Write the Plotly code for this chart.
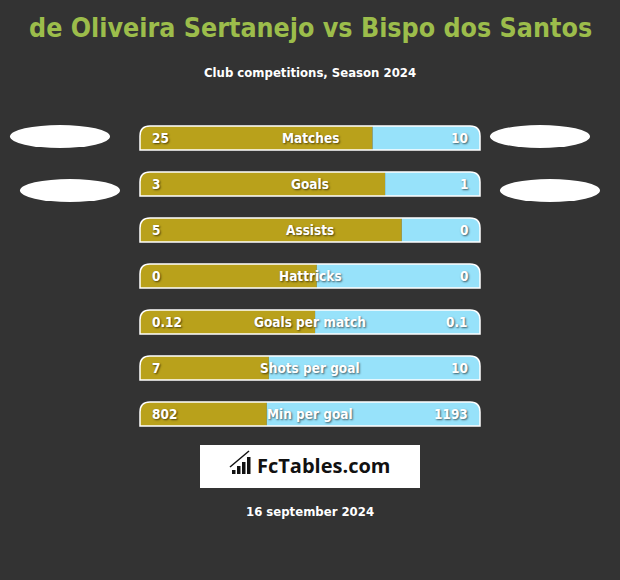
import plotly.graph_objects as go

# ---- data ----
title = "de Oliveira Sertanejo vs Bispo dos Santos"
subtitle = "Club competitions, Season 2024"
date_text = "16 september 2024"
categories = ["Matches", "Goals", "Assists", "Hattricks", "Goals per match", "Shots per goal", "Min per goal"]
left_values = ["25", "3", "5", "0", "0.12", "7", "802"]
right_values = ["10", "1", "0", "0", "0.1", "10", "1193"]
left_share = [0.684, 0.721, 0.770, 0.520, 0.515, 0.379, 0.373]  # share of the bar for the left player
ellipse_rows = [0, 1]

# ---- style ----
W, H = 620, 580
BG = "#333333"
GOLD = "#b9a11b"
BLUE = "#97e2fa"
GREEN = "#9cbd4b"
FONT = "DejaVu Sans Condensed, Roboto, sans-serif"
BAR_L, BAR_R = 140, 480           # pixel extent of bars
ROW0, ROW_STEP = 138, 46          # pixel centre of first row and spacing
BAR_H = 24
RAD = 10

bw = BAR_R - BAR_L
x_range = [-BAR_L / bw, (W - BAR_L) / bw]
y_range = [(H - ROW0) / ROW_STEP, -ROW0 / ROW_STEP]
wid = BAR_H / ROW_STEP
rx, ry = RAD / bw, RAD / ROW_STEP


def px(x):
    return x / W


def py(y):
    return 1 - y / H


idx = list(range(len(categories)))
fig = go.Figure()
fig.add_trace(go.Bar(orientation="h", y=idx, x=left_share, base=0, width=wid,
                     marker=dict(color=GOLD, line=dict(width=0)), hoverinfo="skip"))
fig.add_trace(go.Bar(orientation="h", y=idx, x=[1 - s for s in left_share], base=left_share,
                     width=wid, marker=dict(color=BLUE, line=dict(width=0)), hoverinfo="skip"))

shapes = []
annotations = []
for i in idx:
    yt, yb = i - wid / 2, i + wid / 2
    # corner masks
    shapes.append(dict(type="path", xref="x", yref="y", layer="above",
                       path=f"M 0,{yt} L {rx},{yt} Q 0,{yt} 0,{yt + ry} Z",
                       fillcolor=BG, line=dict(width=0)))
    shapes.append(dict(type="path", xref="x", yref="y", layer="above",
                       path=f"M 1,{yt} L {1 - rx},{yt} Q 1,{yt} 1,{yt + ry} Z",
                       fillcolor=BG, line=dict(width=0)))
    # outline
    shapes.append(dict(type="path", xref="x", yref="y", layer="above",
                       path=(f"M 0,{yb} L 0,{yt + ry} Q 0,{yt} {rx},{yt} L {1 - rx},{yt} "
                             f"Q 1,{yt} 1,{yt + ry} L 1,{yb} Z"),
                       fillcolor="rgba(0,0,0,0)", line=dict(color="white", width=1.5)))
    lab_font = dict(family=FONT, size=13.5, color="white", weight="bold",
                    shadow="1px 1px 2px rgba(0,0,0,0.6)")
    annotations.append(dict(x=10 / bw, y=i, xref="x", yref="y", text=left_values[i],
                            xanchor="left", yanchor="middle", showarrow=False, font=lab_font))
    annotations.append(dict(x=1 - 10 / bw, y=i, xref="x", yref="y", text=right_values[i],
                            xanchor="right", yanchor="middle", showarrow=False, font=lab_font))
    annotations.append(dict(x=0.5, y=i, xref="x", yref="y", text=categories[i],
                            xanchor="center", yanchor="middle", showarrow=False, font=lab_font))

# ellipses beside the first rows
ell_dy = [-1.5, 6.5]
ell_dx = [0, 10]
for k, i in enumerate(ellipse_rows):
    cy = ROW0 + ROW_STEP * i + ell_dy[k]
    for cx in (60 + ell_dx[k], 540 + ell_dx[k]):
        shapes.append(dict(type="circle", xref="paper", yref="paper",
                           x0=px(cx - 50), x1=px(cx + 50), y0=py(cy + 11.5), y1=py(cy - 11.5),
                           fillcolor="white", line=dict(width=0)))

# logo box
shapes.append(dict(type="rect", xref="paper", yref="paper", x0=px(200), x1=px(420),
                   y0=py(488), y1=py(445), fillcolor="white", line=dict(width=0)))
for j, hgt in enumerate([4, 8, 12, 17]):
    x0 = 232 + j * 5
    shapes.append(dict(type="rect", xref="paper", yref="paper", x0=px(x0), x1=px(x0 + 3.5),
                       y0=py(474), y1=py(474 - hgt), fillcolor="#111111", line=dict(width=0)))
shapes.append(dict(type="line", xref="paper", yref="paper", x0=px(230), y0=py(467),
                   x1=px(249), y1=py(451), line=dict(color="#111111", width=1.5)))
annotations.append(dict(x=px(255), y=py(465), xref="paper", yref="paper", text="FcTables.com",
                        xanchor="left", yanchor="middle", showarrow=False,
                        font=dict(family="Open Sans, Roboto, sans-serif", size=20,
                                  color="#111111", weight="bold")))

# titles
annotations.append(dict(x=0.5, y=py(27), xref="paper", yref="paper", text=title,
                        xanchor="center", yanchor="middle", showarrow=False,
                        font=dict(family=FONT, size=26.6, color=GREEN, weight="bold")))
annotations.append(dict(x=0.5, y=py(73), xref="paper", yref="paper", text=subtitle,
                        xanchor="center", yanchor="middle", showarrow=False,
                        font=dict(family=FONT, size=13, color="white", weight="bold")))
annotations.append(dict(x=0.5, y=py(511), xref="paper", yref="paper", text=date_text,
                        xanchor="center", yanchor="middle", showarrow=False,
                        font=dict(family=FONT, size=13, color="white", weight="bold")))

fig.update_layout(
    width=W, height=H, margin=dict(l=0, r=0, t=0, b=0),
    paper_bgcolor=BG, plot_bgcolor=BG, showlegend=False, barmode="overlay",
    xaxis=dict(range=x_range, visible=False, fixedrange=True),
    yaxis=dict(range=y_range, visible=False, fixedrange=True),
    shapes=shapes, annotations=annotations,
)
fig.write_html("out.html", config={"displayModeBar": False},
               post_script="document.body.style.margin='0';document.body.style.background='#333333';")
